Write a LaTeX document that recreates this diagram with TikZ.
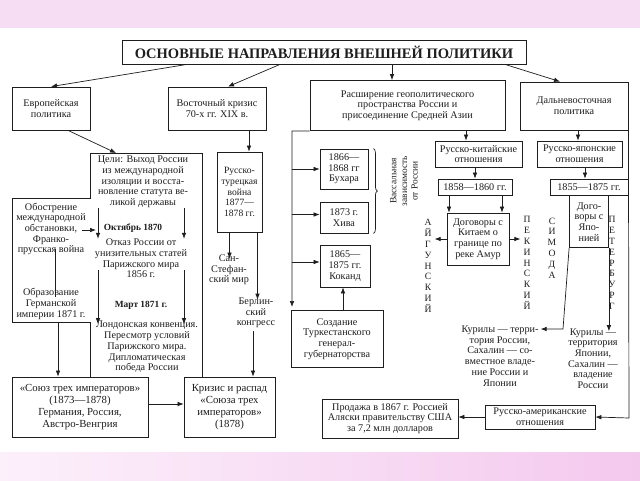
\documentclass[tikz,border=0pt]{standalone}
\usepackage{fontspec}
\setmainfont{Liberation Serif}
\usetikzlibrary{arrows.meta,decorations.pathreplacing,calc}
\newcommand\dfont{\fontsize{10.2}{10.7}\selectfont}
\newcommand\bigfont{\fontsize{10.8}{11.8}\selectfont}
\newcommand\letfont{\fontsize{9.6}{10.8}\selectfont}
\definecolor{bandtop}{HTML}{F7DDF3}
\definecolor{bandl}{HTML}{FCF0FB}
\definecolor{bandr}{HTML}{F4C9EE}
\definecolor{ink}{HTML}{1E1E1E}
\tikzset{
  box/.style={draw=ink, line width=0.8pt, align=center, inner sep=1pt, font=\dfont, text=ink},
  txt/.style={align=center, inner sep=0pt, font=\dfont, text=ink},
  lett/.style={align=center, inner sep=0pt, font=\letfont, text=ink},
  arr/.style={draw=ink, line width=0.7pt, -{Latex[length=6pt,width=4.6pt]}},
  ln/.style={draw=ink, line width=0.7pt}
}
\begin{document}
\begin{tikzpicture}[x=1pt,y=-1pt]
\useasboundingbox (0,0) rectangle (640,480);
\fill[white] (0,0) rectangle (640,480);
\fill[bandtop] (0,0) rectangle (640,28);
\shade[left color=bandl, right color=bandr] (0,452) rectangle (640,480);

% title and main directions
\node[box, minimum width=404pt, minimum height=24pt, font=\fontsize{14.5}{16}\bfseries] (title) at (324,52) {ОСНОВНЫЕ НАПРАВЛЕНИЯ ВНЕШНЕЙ ПОЛИТИКИ};
\node[box, minimum width=78pt, minimum height=43pt] (eur) at (51,108.5) {Европейская\\политика};
\node[box, minimum width=98pt, minimum height=43pt] (vost) at (217,108.5) {Восточный кризис\\70-х гг. XIX в.};
\node[box, minimum width=195pt, minimum height=50pt] (rash) at (407.5,105.5) {Расширение геополитического\\пространства России и\\присоединение Средней Азии};
\node[box, minimum width=108pt, minimum height=48pt] (dal) at (574,106) {Дальневосточная\\политика};

\draw[arr] ([xshift=-137pt]title.south) -- (eur.north);
\draw[arr] ([xshift=-44pt]title.south) -- ([xshift=11pt]vost.north);
\draw[arr] ([xshift=68pt]title.south) -- ([xshift=68pt]title.south |- rash.north);
\draw[arr] ([xshift=181pt]title.south) -- ([xshift=-14pt]dal.north);

% European policy frame
\coordinate (p1) at (90,153);
\coordinate (p2) at (202,153);
\coordinate (p3) at (202,377);
\coordinate (p4) at (90,377);
\coordinate (p5) at (90,322);
\coordinate (p6) at (12,322);
\coordinate (p7) at (12,198);
\coordinate (p8) at (90,198);
\coordinate (celitop) at (116,153);
\draw[ln] (p4) -- (p5) -- (p6) -- (p7) -- (p8) -- (p1) -- (p2) -- (p3);
\draw[arr] ([xshift=17pt]eur.south) -- (celitop);

\node[txt] (celi) at (143,182) {Цели: Выход России\\из международной\\изоляции и восста-\\новление статута ве-\\ликой державы};
\node[txt] (obostr) at (51,229) {Обострение\\международной\\обстановки,\\Франко-\\прусская война};
\node[txt] (obraz) at (51,304) {Образование\\Германской\\империи 1871 г.};
\node[txt, font=\fontsize{9.4}{10}\bfseries] (okt) at (133,228) {Октябрь 1870};
\node[txt] (otkaz) at (141,258.5) {Отказ России от\\унизительных статей\\Парижского мира\\1856 г.};
\node[txt, font=\fontsize{9.4}{10}\bfseries] (mart) at (141,305) {Март 1871 г.};
\node[txt] (london) at (147,347) {Лондонская конвенция.\\Пересмотр условий\\Парижского мира.\\Дипломатическая\\победа России};

\coordinate (ok1) at (82,230);
\coordinate (ok2) at (96,230);
\draw[arr] (ok1) -- (ok2);
\draw[arr] ([xshift=-45pt]celi.south) -- ([xshift=-43pt]otkaz.north);
\draw[arr] ([xshift=41pt]celi.south) -- ([xshift=43pt]otkaz.north);
\draw[arr] ([xshift=-43pt,yshift=8pt]otkaz.south) -- ([xshift=-49pt,yshift=-3pt]london.north);
\draw[arr] ([xshift=43pt,yshift=8pt]otkaz.south) -- ([xshift=37pt,yshift=-3pt]london.north);
\draw[ln] ([xshift=4pt,yshift=6pt]obostr.south) -- ([xshift=4pt,yshift=-9pt]obraz.north);

% Union boxes
\node[box, font=\bigfont, minimum width=136pt, minimum height=60pt] (soyuz) at (80,407) {«Союз трех императоров»\\(1873—1878)\\Германия, Россия,\\Австро-Венгрия};
\node[box, font=\bigfont, minimum width=91pt, minimum height=60pt] (krizis) at (229.5,407) {Кризис и распад\\«Союза трех\\императоров»\\(1878)};
\draw[arr] ([xshift=7pt]p6 -| obraz) -- ([xshift=7pt]soyuz.north -| obraz);
\draw[arr] ([yshift=3pt]soyuz.east) -- ([yshift=3pt]soyuz.east -| krizis.west);

% Eastern crisis
\node[box, font=\fontsize{9.6}{10.6}\selectfont, minimum width=45pt, minimum height=80pt] (rustur) at (239.5,192) {Русско-\\турецкая\\война\\1877—\\1878 гг.};
\draw[arr] ([xshift=32pt]vost.south) -- ([xshift=32pt]vost.south |- rustur.north);
\node[txt] (sanst) at (229,270) {Сан-\\Стефан-\\ский мир};
\node[txt] (berlin) at (256,313) {Берлин-\\ский\\конгресс};
\draw[arr] ([xshift=-10pt]rustur.south) -- ([xshift=-10pt,yshift=-4pt]rustur.south |- sanst.north);
\draw[arr] ([xshift=18pt]rustur.south) -- ([xshift=18pt,yshift=-2pt]rustur.south |- berlin.north);
\draw[arr] ([xshift=-3pt,yshift=-3pt]berlin.south) -- ([xshift=-3pt]berlin.south |- krizis.north);

% Central Asia
\node[box, minimum width=48pt, minimum height=40pt] (buhara) at (344,169) {1866—\\1868 гг\\Бухара};
\node[box, minimum width=48pt, minimum height=31pt] (hiva) at (344,217.5) {1873 г.\\Хива};
\node[box, minimum width=50pt, minimum height=42pt] (kokand) at (345,266) {1865—\\1875 гг.\\Коканд};
\node[box, minimum width=92pt, minimum height=57pt] (turk) at (337,339) {Создание\\Туркестанского\\генерал-\\губернаторства};
\coordinate (rframe) at (292,131);
\coordinate (rframeend) at (292,307);
\draw[arr] (rash.south west) -- (rframe) -- (rframeend);
\draw[arr] (rframe |- buhara.west) -- (buhara.west);
\draw[arr] ([yshift=3pt]rframe |- hiva.west) -- ([yshift=3pt]hiva.west);
\draw[arr] ([yshift=4pt]rframe |- kokand.west) -- ([yshift=4pt]kokand.west);
\draw[arr] ([xshift=6pt]turk.north) -- ([xshift=6pt]turk.north |- kokand.south);
\draw[ln, decorate, decoration={brace, amplitude=4pt}] ([xshift=5pt]buhara.north east) -- ([xshift=5pt]hiva.south east);
\node[txt, rotate=90, font=\fontsize{9.4}{10.6}\selectfont] (vass) at (404,181) {Вассальная\\зависимость\\от России};

% Russia - China
\node[box, minimum width=87pt, minimum height=26pt] (ruskit) at (478.5,154) {Русско-китайские\\отношения};
\node[box, minimum width=85pt, minimum height=26pt] (rusyap) at (579.5,154) {Русско-японские\\отношения};
\draw[arr] ([xshift=58.5pt]rash.south) -- ([xshift=58.5pt]rash.south |- ruskit.north);
\draw[arr] ([xshift=4pt]dal.south) -- ([xshift=4pt]dal.south |- rusyap.north);
\node[box, minimum width=74pt, minimum height=16pt] (d1858) at (475,187) {1858—1860 гг.};
\node[box, minimum width=78pt, minimum height=16pt] (d1855) at (589,187) {1855—1875 гг.};
\draw[arr] ([xshift=-3.5pt]ruskit.south) -- ([xshift=-3.5pt]ruskit.south |- d1858.north);
\draw[arr] ([xshift=5.5pt]rusyap.south) -- ([xshift=5.5pt]rusyap.south |- d1855.north);
\node[box, minimum width=62pt, minimum height=52pt] (dogkit) at (478,239) {Договоры с\\Китаем о\\границе по\\реке Амур};
\draw[arr] ([xshift=-26pt]d1858.south) -- ([xshift=-26pt]d1858.south |- dogkit.north);
\draw[arr] ([xshift=27pt]d1858.south) -- ([xshift=27pt]d1858.south |- dogkit.north);
\node[lett] (aigun) at (428,266) {А\\Й\\Г\\У\\Н\\С\\К\\И\\Й};
\node[lett] (pekin) at (527,263) {П\\Е\\К\\И\\Н\\С\\К\\И\\Й};
\draw[arr] (dogkit.west) -- ([xshift=3pt]aigun.east |- dogkit.west);
\draw[arr] (dogkit.east) -- ([xshift=-3pt]pekin.west |- dogkit.east);

% Russia - Japan
\node[box, minimum width=39pt, minimum height=52pt, anchor=north] (dogyap) at (d1855.south) {Дого-\\воры с\\Япо-\\нией};
\node[lett] (simoda) at (552,248) {С\\И\\М\\О\\Д\\А};
\node[lett] (peterb) at (612,263) {П\\Е\\Т\\Е\\Р\\Б\\У\\Р\\Г};
\node[txt] (kurros) at (500,356) {Курилы — терри-\\тория России,\\Сахалин — со-\\вместное владе-\\ние России и\\Японии};
\node[txt] (kuryap) at (593,358.5) {Курилы —\\территория\\Японии,\\Сахалин —\\владение\\России};
\coordinate (yapcorner) at (563,329);
\draw[arr] (dogyap.south west) -- (yapcorner) -- ([xshift=2pt]yapcorner -| kurros.east);
\draw[arr] (dogyap.south east) -- ([yshift=-3pt]dogyap.south east |- kuryap.north);

% Russia - America
\node[box, minimum width=110pt, minimum height=24pt] (rusam) at (540,417) {Русско-американские\\отношения};
\node[box, minimum width=136pt, minimum height=39pt] (prodazha) at (390,418.5) {Продажа в 1867 г. Россией\\Аляски правительству США\\за 7,2 млн долларов};
\coordinate (dcorner) at (629,418);
\draw[arr] (dal.south east) -- (dcorner) -- (rusam.east);
\draw[arr] (rusam.west) -- (rusam.west -| prodazha.east);
\end{tikzpicture}
\end{document}
